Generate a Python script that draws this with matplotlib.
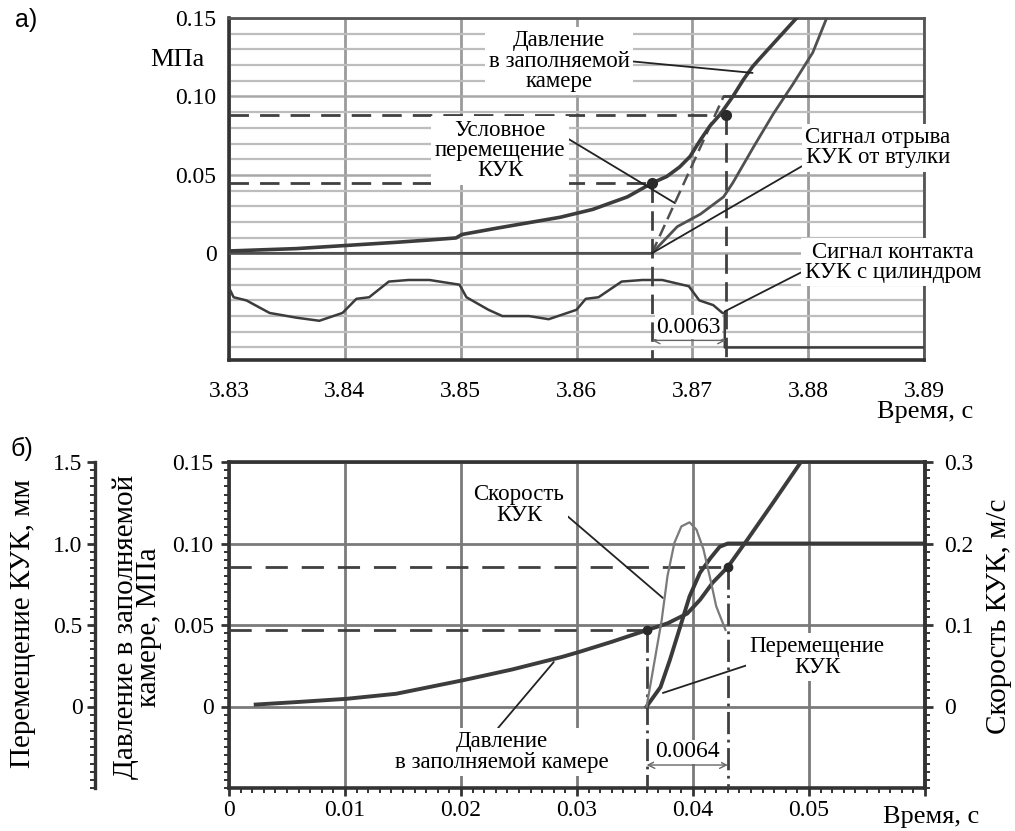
import numpy as np
import matplotlib
matplotlib.use('Agg')
import matplotlib.pyplot as plt
from matplotlib.ticker import FixedLocator, FixedFormatter, MultipleLocator

plt.rcParams['font.family'] = ['Liberation Serif', 'DejaVu Serif']

# ---------------- panel a) data ----------------
t_press_a = [3.8300, 3.8358, 3.8401, 3.8444, 3.8473, 3.8496, 3.8501, 3.8531, 3.8586,
             3.8614, 3.8644, 3.8665, 3.8678, 3.8689, 3.8698, 3.8707, 3.8715, 3.8724,
             3.8735, 3.8744, 3.8752, 3.8758, 3.8774, 3.8790]
press_a = [0.0015, 0.003, 0.005, 0.007, 0.0085, 0.0098, 0.012, 0.016, 0.023,
           0.028, 0.036, 0.0447, 0.049, 0.055, 0.0617, 0.0723, 0.081, 0.0885,
           0.100, 0.1106, 0.119, 0.124, 0.137, 0.150]

t_detach_a = [3.8300, 3.8665, 3.8687, 3.8707, 3.8727, 3.8735, 3.8753, 3.8770, 3.8787, 3.8804, 3.8816]
detach_a = [0.0, 0.0, 0.017, 0.025, 0.036, 0.045, 0.068, 0.089, 0.108, 0.128, 0.150]

t_cond_ramp_a = [3.8665, 3.8727]
cond_ramp_a = [0.0, 0.100]
t_cond_flat_a = [3.8727, 3.8900]
cond_flat_a = [0.100, 0.100]

t_contact_a = [3.8300, 3.8304, 3.8315, 3.8335, 3.8358, 3.8378, 3.8398, 3.8410, 3.8421,
               3.8438, 3.8455, 3.8473, 3.8499, 3.8505, 3.8524, 3.8536, 3.8559, 3.8576,
               3.8600, 3.8608, 3.8619, 3.8639, 3.8657, 3.8674, 3.8697, 3.8706, 3.8718,
               3.8726, 3.8728, 3.8728, 3.8900]
contact_a = [-0.022, -0.028, -0.030, -0.038, -0.041, -0.043, -0.038, -0.029, -0.028,
             -0.018, -0.017, -0.017, -0.020, -0.028, -0.036, -0.040, -0.040, -0.042,
             -0.036, -0.029, -0.028, -0.018, -0.017, -0.017, -0.021, -0.030, -0.033,
             -0.038, -0.038, -0.060, -0.060]

mark_t_a = [3.8665, 3.8729]
mark_p_a = [0.0447, 0.0880]
interval_a = "0.0063"

xticks_a = [3.83, 3.84, 3.85, 3.86, 3.87, 3.88, 3.89]
xlabels_a = ["3.83", "3.84", "3.85", "3.86", "3.87", "3.88", "3.89"]
yticks_a = [0.0, 0.05, 0.10, 0.15]
ylabels_a = ["0", "0.05", "0.10", "0.15"]

# ---------------- panel b) data ----------------
t_press_b = [0.0023, 0.0058, 0.0101, 0.0144, 0.0201, 0.0244, 0.0287, 0.0302, 0.0330,
             0.0360, 0.0378, 0.0395, 0.0406, 0.0417, 0.0430, 0.0447, 0.0469, 0.0494]
press_b = [0.0012, 0.0027, 0.0047, 0.0078, 0.0160, 0.0227, 0.0304, 0.0335, 0.0397,
           0.0468, 0.0510, 0.0570, 0.0654, 0.0760, 0.0856, 0.1025, 0.1250, 0.1510]

t_vel_b = [0.0360, 0.0367, 0.0373, 0.0378, 0.0384, 0.0390, 0.0397, 0.0403, 0.0409,
           0.0415, 0.0420, 0.0428]
vel_b = [0.0, 0.057, 0.106, 0.160, 0.201, 0.221, 0.226, 0.217, 0.193, 0.156, 0.123, 0.094]

t_disp_b = [0.0360, 0.0372, 0.0380, 0.0389, 0.0397, 0.0406, 0.0415, 0.0423, 0.0430, 0.0600]
disp_b = [0.0, 0.119, 0.284, 0.490, 0.675, 0.820, 0.910, 0.980, 1.000, 1.000]

mark_t_b = [0.0360, 0.0430]
mark_p_b = [0.0470, 0.0858]
interval_b = "0.0064"

xticks_b = [0.0, 0.01, 0.02, 0.03, 0.04, 0.05, 0.06]
xlabels_b = ["0", "0.01", "0.02", "0.03", "0.04", "0.05", ""]
yticks_b = [0.0, 0.05, 0.10, 0.15]
ylabels_b = ["0", "0.05", "0.10", "0.15"]
mmticks_b = [0.0, 0.5, 1.0, 1.5]
mmlabels_b = ["0", "0.5", "1.0", "1.5"]
vticks_b = [0.0, 0.1, 0.2, 0.3]
vlabels_b = ["0", "0.1", "0.2", "0.3"]

# ---------------- figure ----------------
W, H = 1015, 831
fig = plt.figure(figsize=(W / 100, H / 100), dpi=100)

DARK = '#333333'
CURVE = '#3c3c3c'
FS_TICK = 17
FS_ANN = 16.5
FS_LAB = 21

def fx(px):
    return px / W

def fy(py):
    return 1 - py / H

box = dict(boxstyle='square,pad=0.15', fc='white', ec='none')

# ======== panel a ========
axa = fig.add_axes([fx(229), fy(360), (924 - 229) / W, (360 - 18) / H])
axa.set_xlim(3.83, 3.89)
axa.set_ylim(-0.068, 0.15)
axa.set_axisbelow(True)
axa.xaxis.set_major_locator(FixedLocator(xticks_a))
axa.xaxis.set_major_formatter(FixedFormatter(xlabels_a))
axa.yaxis.set_major_locator(FixedLocator(yticks_a))
axa.yaxis.set_major_formatter(FixedFormatter(ylabels_a))
axa.yaxis.set_minor_locator(MultipleLocator(0.01))
axa.tick_params(axis='x', which='both', length=0, pad=15, labelsize=FS_TICK)
axa.tick_params(axis='y', which='both', length=0, pad=9, labelsize=FS_TICK)
axa.grid(which='minor', axis='y', color='#bdbdbd', lw=1.6)
axa.grid(which='major', axis='y', color='#a8a8a8', lw=1.8)
axa.grid(which='major', axis='x', color='#9a9a9a', lw=2.0)
for s in ['left', 'bottom']:
    axa.spines[s].set_color(DARK)
    axa.spines[s].set_linewidth(2.6)
for s in ['top', 'right']:
    axa.spines[s].set_color('#555555')
    axa.spines[s].set_linewidth(2.0)

axa.plot(t_contact_a, contact_a, color=CURVE, lw=1.8, zorder=3)
axa.plot(t_detach_a, detach_a, color='#505050', lw=2.0, zorder=3)
axa.plot(t_cond_ramp_a, cond_ramp_a, color='#505050', lw=1.8, ls=(0, (5, 2.5)), zorder=3)
axa.plot(t_cond_flat_a, cond_flat_a, color=CURVE, lw=2.0, zorder=3)
axa.plot(t_press_a, press_a, color=CURVE, lw=2.6, zorder=3)
for t, p in zip(mark_t_a, mark_p_a):
    axa.plot([3.83, t], [p, p], color='#404040', lw=2.0, ls=(0, (7, 4)), zorder=3)
    axa.plot([t, t], [p, -0.068], color='#404040', lw=2.0, ls=(0, (7, 3)), zorder=3)
axa.plot(mark_t_a, mark_p_a, 'o', color='#2a2a2a', ms=7, zorder=4)

axa.annotate("Давление\nв заполняемой\nкамере", xy=(3.8752, 0.1150), xytext=(3.8585, 0.1225),
             ha='center', va='center', fontsize=FS_ANN, linespacing=0.95, bbox=box,
             arrowprops=dict(arrowstyle='-', color='#222222', lw=1.3, shrinkA=0, shrinkB=0,
                             relpos=(1.0, 0.5)), zorder=5)
axa.annotate("Условное\nперемещение\nКУК", xy=(3.8685, 0.032), xytext=(3.8534, 0.0655),
             ha='center', va='center', fontsize=FS_ANN, linespacing=0.95, bbox=box,
             arrowprops=dict(arrowstyle='-', color='#222222', lw=1.3, shrinkA=0, shrinkB=0,
                             relpos=(1.0, 0.72)), zorder=5)
axa.annotate("Сигнал отрыва\nКУК от втулки", xy=(mark_t_a[0], 0.0), xytext=(3.8860, 0.0672),
             ha='center', va='center', fontsize=FS_ANN, linespacing=0.95, bbox=box,
             arrowprops=dict(arrowstyle='-', color='#222222', lw=1.3, shrinkA=0, shrinkB=0,
                             relpos=(0.0, 0.1)), zorder=5, annotation_clip=False)
axa.annotate("Сигнал контакта\nКУК с цилиндром", xy=(3.8728, -0.037), xytext=(3.8873, -0.0058),
             ha='center', va='center', fontsize=FS_ANN, linespacing=0.95, bbox=box,
             arrowprops=dict(arrowstyle='-', color='#222222', lw=1.3, shrinkA=0, shrinkB=0,
                             relpos=(0.0, 0.3)), zorder=5, annotation_clip=False)
axa.annotate("", xy=(mark_t_a[0], -0.0555), xytext=(mark_t_a[1], -0.0555),
             arrowprops=dict(arrowstyle='<->', color='#666666', lw=1.0, mutation_scale=12,
                             shrinkA=0, shrinkB=0), zorder=5)
axa.text(np.mean(mark_t_a), -0.0470, interval_a, ha='center', va='center', fontsize=17,
         bbox=dict(boxstyle='square,pad=0.05', fc='white', ec='none'), zorder=5)

fig.text(fx(177), fy(60), "МПа", ha='center', va='center', fontsize=19)
fig.text(fx(925), fy(412), "Время, с", ha='center', va='center', fontsize=19)
fig.text(fx(26), fy(20), "а)", ha='center', va='center', fontsize=18,
         family=['Liberation Sans', 'DejaVu Sans'])

# ======== panel b ========
axb = fig.add_axes([fx(229), fy(788), (925 - 229) / W, (788 - 462) / H])
axb.set_xlim(0.0, 0.06)
axb.set_ylim(-0.05, 0.15)
axb.set_axisbelow(True)
axb.xaxis.set_major_locator(FixedLocator(xticks_b))
axb.xaxis.set_major_formatter(FixedFormatter(xlabels_b))
axb.xaxis.set_minor_locator(MultipleLocator(0.001))
axb.yaxis.set_major_locator(FixedLocator(yticks_b))
axb.yaxis.set_major_formatter(FixedFormatter(ylabels_b))
axb.yaxis.set_minor_locator(MultipleLocator(0.005))
axb.tick_params(which='major', direction='out', length=6, width=2, color=DARK, labelsize=FS_TICK)
axb.tick_params(which='minor', direction='out', length=3.5, width=1.4, color=DARK)
axb.tick_params(axis='x', which='major', pad=3)
axb.tick_params(axis='y', which='major', pad=5)
axb.grid(which='major', color='#7a7a7a', lw=2.0)
for s in axb.spines.values():
    s.set_color(DARK)
    s.set_linewidth(2.6)

ax_mm = axb.twinx()
ax_mm.set_ylim(-0.5, 1.5)
ax_mm.yaxis.tick_left()
ax_mm.spines['left'].set_position(('axes', (95 - 229) / 696))
for s in ['right', 'top', 'bottom']:
    ax_mm.spines[s].set_visible(False)
ax_mm.spines['left'].set_color(DARK)
ax_mm.spines['left'].set_linewidth(2.4)
ax_mm.yaxis.set_major_locator(FixedLocator(mmticks_b))
ax_mm.yaxis.set_major_formatter(FixedFormatter(mmlabels_b))
ax_mm.yaxis.set_minor_locator(MultipleLocator(0.05))
ax_mm.tick_params(which='major', direction='out', length=6, width=2, color=DARK,
                  labelsize=FS_TICK, pad=3)
ax_mm.tick_params(which='minor', direction='out', length=3.5, width=1.4, color=DARK)

ax_v = axb.twinx()
ax_v.set_ylim(-0.1, 0.3)
for s in ['left', 'top', 'bottom']:
    ax_v.spines[s].set_visible(False)
ax_v.spines['right'].set_color(DARK)
ax_v.spines['right'].set_linewidth(2.6)
ax_v.yaxis.set_major_locator(FixedLocator(vticks_b))
ax_v.yaxis.set_major_formatter(FixedFormatter(vlabels_b))
ax_v.yaxis.set_minor_locator(MultipleLocator(0.01))
ax_v.tick_params(which='major', direction='out', length=6, width=2, color=DARK,
                 labelsize=FS_TICK, pad=8)
ax_v.tick_params(which='minor', direction='out', length=3.5, width=1.4, color=DARK)

for t, p in zip(mark_t_b, mark_p_b):
    axb.plot([0.0, t], [p, p], color='#404040', lw=2.0, ls=(0, (8, 5)), zorder=3)
    axb.plot([t, t], [p, -0.05], color='#404040', lw=2.0, ls=(0, (8, 2, 1, 2)), zorder=3)
axb.plot(t_press_b, press_b, color=CURVE, lw=2.8, zorder=4)
axb.plot(mark_t_b, mark_p_b, 'o', color='#2a2a2a', ms=6, zorder=5)
ax_v.plot(t_vel_b, vel_b, color='#7a7a7a', lw=1.6)
ax_mm.plot(t_disp_b, disp_b, color='#3a3a3a', lw=2.8)

axb.annotate("Скорость\nКУК", xy=(0.0374, 0.0666), xytext=(0.0250, 0.1236),
             ha='center', va='center', fontsize=FS_ANN, linespacing=0.95, bbox=box,
             arrowprops=dict(arrowstyle='-', color='#222222', lw=1.3, shrinkA=0, shrinkB=0,
                             relpos=(0.97, 0.35)), zorder=6)
axb.annotate("Давление\nв заполняемой камере", xy=(0.0280, 0.0273), xytext=(0.0235, -0.0279),
             ha='center', va='center', fontsize=FS_ANN, linespacing=0.95, bbox=box,
             arrowprops=dict(arrowstyle='-', color='#222222', lw=1.3, shrinkA=0, shrinkB=0,
                             relpos=(0.47, 1.0)), zorder=6)
axb.annotate("Перемещение\nКУК", xy=(0.0374, 0.0083), xytext=(0.0507, 0.0304),
             ha='center', va='center', fontsize=FS_ANN, linespacing=0.95, bbox=box,
             arrowprops=dict(arrowstyle='-', color='#222222', lw=1.3, shrinkA=0, shrinkB=0,
                             relpos=(0.12, 0.45)), zorder=6)
axb.annotate("", xy=(mark_t_b[0], -0.0359), xytext=(mark_t_b[1], -0.0359),
             arrowprops=dict(arrowstyle='<->', color='#666666', lw=1.0, mutation_scale=12,
                             shrinkA=0, shrinkB=0), zorder=6)
axb.text(np.mean(mark_t_b), -0.0279, interval_b, ha='center', va='center', fontsize=17,
         bbox=dict(boxstyle='square,pad=0.05', fc='white', ec='none'), zorder=6)

fig.text(fx(23), fy(624), "Перемещение КУК, мм", rotation=90, ha='center', va='center',
         fontsize=FS_LAB)
fig.text(fx(137), fy(627), "Давление в заполняемой\nкамере, МПа", rotation=90, ha='center',
         va='center', fontsize=FS_LAB, linespacing=0.85)
fig.text(fx(999), fy(616), "Скорость КУК, м/с", rotation=90, ha='center', va='center',
         fontsize=FS_LAB)
fig.text(fx(931), fy(817), "Время, с", ha='center', va='center', fontsize=19)
fig.text(fx(22), fy(449), "б)", ha='center', va='center', fontsize=18,
         family=['Liberation Sans', 'DejaVu Sans'])

fig.savefig("out.png", dpi=100)
